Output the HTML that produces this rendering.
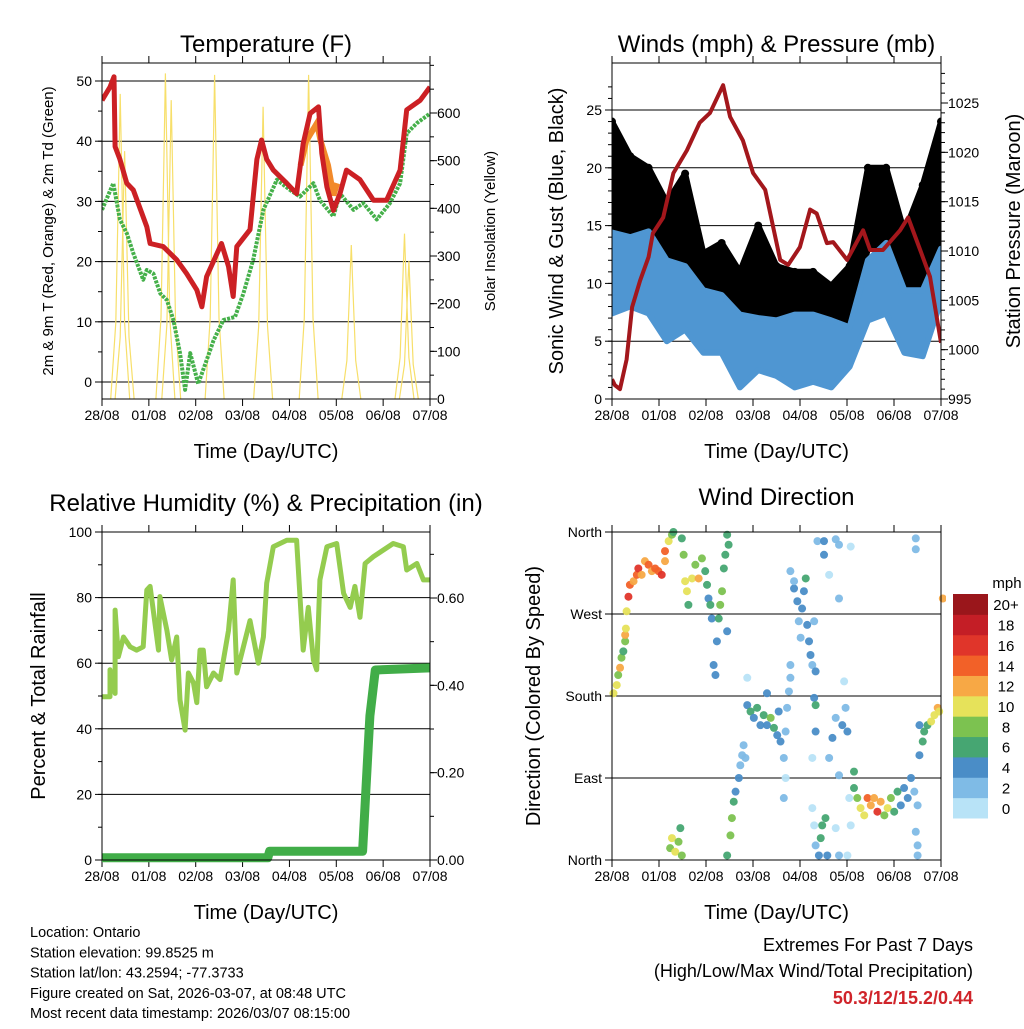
<!DOCTYPE html>
<html><head><meta charset="utf-8"><style>
html,body{margin:0;padding:0;background:#fff;}
svg text{font-family:"Liberation Sans",sans-serif;}
</style></head><body>
<svg id="s" xmlns="http://www.w3.org/2000/svg" width="1024" height="1024" viewBox="0 0 1024 1024">
<rect width="1024" height="1024" fill="#fff"/>
</svg>
<script>
// ---------- data ----------
const xTickLabels = ["28/08","01/08","02/08","03/08","04/08","05/08","06/08","07/08"];
const xTickDays = [0,1.2857,2.5714,3.8571,5.1429,6.4286,7.7143,9];
// temperature panel
const tempDays = [0,0.22,0.33,0.36,0.49,0.68,0.86,1.23,1.32,1.68,2.05,2.32,2.6,2.74,2.87,3.28,3.47,3.6,3.7,4.06,4.25,4.38,4.52,4.7,5.07,5.34,5.52,5.71,5.94,6.03,6.17,6.35,6.53,6.71,7.08,7.45,7.81,8.18,8.36,8.73,9.0];
const tempRed = [46.8,49,50.7,39.1,37,33,31.9,25.8,23,22.5,20.3,18,15.3,12.5,17.5,23,19.2,14.2,22.5,25.3,37,40.2,37,35.2,33,31.3,39.6,44.6,45.7,38,32.4,28.5,31.3,35.2,33.6,30.2,30.2,35.2,45.2,46.8,49];
const orangeDays = [5.45,5.6,5.9,6.0,6.2,6.35,6.45];
const tempOrange = [36,40,43,40,36,31,33];
const dewDays = [0,0.31,0.49,0.68,0.86,1.13,1.23,1.41,1.6,1.78,1.96,2.14,2.28,2.42,2.64,2.87,3.06,3.33,3.65,3.88,4.15,4.43,4.8,5.16,5.43,5.8,5.98,6.35,6.53,6.9,7.17,7.54,7.9,8.18,8.36,8.64,9.0];
const dewPoint = [28.6,33,27,24.7,21.4,17,18.6,18,14.7,13.6,10.3,4.8,-1.3,4.8,-0.3,3.6,6.9,10.3,10.8,14.7,20.3,28.6,33.6,31.9,30.8,33,30.2,27.5,31.3,28.6,29.7,27,29.7,33,41.3,43,44.6];
const solarPeakDay = [0.5,0.62,1.74,1.9,3.09,4.42,5.67,6.84,8.3,8.42];
const solarPeak = [640,520,683,627,680,613,680,323,347,290];
// wind panel
const windDays = [0,0.5,1,1.5,2,2.5,3,3.5,4,4.5,5,5.5,6,6.5,7,7.5,8,8.5,9];
const windLow = [7.4,8,7.4,5,6,4,4,1,2.5,2,1,1.5,1,2.8,6.8,7.4,4,3.7,8.5];
const windHigh = [14.4,14,14.5,12,11.5,9.4,9,7.3,7,6.8,7.3,7.3,6.8,6.2,12,13.5,9.4,9.4,13];
const gustLow = [14.4,14,14,10,11.5,8.5,7.5,5.5,7.5,6.8,7.3,7,5,6.8,13,13,7.4,9.4,14];
const gustHigh = [24,21,20,17,19.5,12.6,13.5,11,15,11.5,11,11,9.8,11.5,20,20,14.4,18.5,24];
const presDays = [0,0.08,0.22,0.4,0.55,0.77,1.0,1.12,1.4,1.68,2.05,2.4,2.68,3.04,3.23,3.58,3.86,4.19,4.6,4.82,5.14,5.42,5.6,5.88,6.05,6.43,6.87,7.06,7.41,7.88,8.1,8.43,8.7,9.0];
const pressure = [997,996.4,996,999,1004.3,1007,1009.4,1011.8,1013.4,1017.9,1020.2,1023,1024,1026.8,1023.6,1021.2,1017.9,1016.2,1009.1,1008.6,1010.4,1014.2,1013.8,1010.8,1010.9,1009.1,1012.1,1010.1,1010.1,1012.1,1013.4,1010.1,1007.4,1000.7];
// RH panel
const rhDays = [0,0.22,0.22,0.36,0.36,0.45,0.59,0.77,0.95,1.13,1.23,1.32,1.55,1.59,1.78,1.91,2.05,2.14,2.28,2.37,2.51,2.6,2.69,2.78,2.87,3.06,3.24,3.47,3.6,3.7,4.06,4.29,4.43,4.52,4.7,5.07,5.34,5.52,5.66,5.8,5.89,5.98,6.17,6.44,6.63,6.81,6.94,7.08,7.22,7.45,7.72,7.99,8.27,8.36,8.64,8.82,9.0];
const rhValues = [49.8,49.8,58,50.8,76.2,62,68,65,64,65,82.3,83.4,64,80.3,70,61,68,48.8,39.6,57,54,48,64,64,52.8,57,55,70,85.4,57,73,60,68,84.4,95.5,97.5,97.5,64,77,61,58,85.4,95.5,96.5,81.3,77,83.4,74,90.4,92.5,94.5,96.5,95.5,88.4,90.4,85.4,85.4];
const rainDays = [0,4.55,4.6,7.15,7.3,7.35,7.5,9];
const rainValues = [0.005,0.005,0.02,0.02,0.25,0.33,0.435,0.44];
// wind direction panel
const dirDays = [0.04,0.13,0.17,0.22,0.26,0.31,0.36,0.36,0.38,
 0.40,0.45,0.49,0.59,0.68,0.72,0.81,0.90,1.0,1.09,1.18,1.27,1.36,1.45,1.45,1.55,1.64,1.68,
 1.91,1.96,2.00,2.05,2.09,2.19,2.28,2.37,2.46,2.55,2.60,2.64,2.69,
 1.59,1.64,1.73,1.82,1.87,1.91,
 2.73,2.78,2.83,2.87,2.92,2.96,3.01,3.06,3.10,3.15,3.19,3.15,
 3.15,3.24,3.28,3.33,3.38,3.47,3.51,3.56,3.60,3.65,3.70,
 3.70,3.79,3.88,3.97,4.06,4.15,4.24,4.34,4.43,4.52,4.56,4.61,4.70,4.75,4.79,4.84,4.88,4.75,4.70,5.48,4.24,
 4.88,4.98,5.07,5.11,5.16,5.20,5.25,5.30,5.34,5.39,5.43,5.48,5.53,5.57,5.53,5.57,4.88,4.98,
 5.62,5.80,5.80,6.12,6.21,6.53,8.31,8.31,5.94,6.21,9.05,
 5.48,5.53,5.57,5.66,5.71,5.75,5.84,5.89,5.94,6.03,6.12,6.21,6.30,6.35,6.39,6.44,6.49,6.53,6.44,6.21,6.12,5.57,
 6.62,6.71,6.80,6.90,6.99,7.08,7.17,7.26,7.35,7.45,7.54,7.63,7.72,7.81,7.90,7.99,8.09,8.18,8.27,8.36,6.62,
 8.41,8.50,8.54,8.63,8.73,8.82,8.91,8.95,8.41,
 8.31,8.36,8.36];
const dirDeg = [183,192,203,211,222,229,240,247,254,
 273,289,302,306,313,320,313,328,324,317,320,317,313,328,339,350,357,360,
 353,335,306,295,280,309,324,309,331,317,302,287,280,
 13,24,9,20,35,5,
 265,214,203,240,265,280,295,320,335,357,346,251,
 5,27,46,64,75,90,104,115,126,112,200,
 170,163,156,167,148,159,148,156,145,137,163,130,112,141,167,185,200,90,68,112,183,
 317,298,284,262,244,276,295,309,258,240,225,214,262,207,178,170,214,306,
 350,350,335,352,346,344,353,341,313,287,287,
 57,38,16,5,24,38,46,5,112,134,156,93,148,196,167,141,68,38,5,5,35,141,
 79,68,57,49,68,60,68,53,64,49,57,68,53,75,60,79,68,90,75,60,97,
 115,130,141,148,152,159,167,163,148,
 31,5,16];
const dirSpeed = [10,10,8,12,8,6,8,12,10,
 10,16,14,12,14,16,12,12,14,12,14,14,16,12,14,10,8,6,
 6,8,10,10,6,10,8,12,8,6,6,4,6,
 8,10,10,8,6,8,
 4,4,4,4,6,8,8,6,6,6,6,4,
 6,8,8,6,4,4,2,2,2,2,0,
 4,6,4,6,4,6,4,8,6,4,4,4,2,2,2,2,2,0,2,0,4,
 2,4,4,2,2,4,4,6,4,4,4,2,2,4,4,6,2,2,
 2,4,4,2,2,0,2,2,0,2,12,
 0,0,2,4,6,6,6,4,2,4,2,2,4,0,2,4,0,0,0,2,0,4,
 6,8,10,10,14,12,12,16,12,8,10,8,6,6,4,4,4,4,2,2,6,
 4,6,6,6,10,10,12,10,4,
 2,2,2];
const cbLabels = ["0","2","4","6","8","10","12","14","16","18","20+"];
const cbColors = ["#b8e3f7","#7fbbe6","#4a8dc7","#46a672","#7cc250","#e6e25a","#f7a845","#f26128","#e0352a","#c41e26","#9a161b"];

// ---------- helpers ----------
const NS="http://www.w3.org/2000/svg";
const svg=document.getElementById('s');
function el(tag,attrs,parent,txt){const e=document.createElementNS(NS,tag);for(const k in attrs)e.setAttribute(k,attrs[k]);if(txt!==undefined)e.textContent=txt;(parent||svg).appendChild(e);return e;}
function txt(x,y,s,size,anchor,name,extra){const t=el('text',Object.assign({x:x,y:y,'font-size':size,'text-anchor':anchor||'middle',fill:'#000'},extra||{}),null,s);return t;}
function lin(d0,d1,r0,r1){return v=>r0+(v-d0)*(r1-r0)/(d1-d0);}
function pathOf(xs,ys,fx,fy){return xs.map((d,i)=>(i?'L':'M')+fx(d).toFixed(1)+','+fy(ys[i]).toFixed(1)).join('');}
function clip(id,x0,y0,x1,y1){const c=el('clipPath',{id:id});el('rect',{x:x0,y:y0,width:x1-x0,height:y1-y0},c);}

function panel(p){
  const g=el('g',{});
  const fx=lin(0,9,p.x0,p.x1);
  p.grid.forEach(v=>{const l=el('line',{x1:p.x0,x2:p.x1,y1:p.fy(v),y2:p.fy(v),stroke:'#000','stroke-width':1},g);});
  xTickDays.forEach((d,i)=>{const x=fx(d);el('line',{x1:x,x2:x,y1:p.y1,y2:p.y1+7,stroke:'#000'},g);el('line',{x1:x,x2:x,y1:p.y0,y2:p.y0-7,stroke:'#000'},g);
    txt(x,p.y1+21,xTickLabels[i],14,'middle','x-tick-label');});
  txt((p.x0+p.x1)/2,p.y1+59,'Time (Day/UTC)',20,'middle','x-axis-title');
  txt((p.x0+p.x1)/2,p.titleY,p.title,24,'middle','panel-title');
  return {g:g,fx:fx};
}
function yTicks(p,vals,labels,fy,side,minorStep,minRange){
  vals.forEach((v,i)=>{const y=fy(v);const x=side==='l'?p.x0:p.x1;const dx=side==='l'?-7:7;
    el('line',{x1:x,x2:x+dx,y1:y,y2:y,stroke:'#000'});
    txt(side==='l'?x-10:x+7,y+5,labels[i],14,side==='l'?'end':'start',side==='l'?'y-tick-label':'y2-tick-label');});
  if(minorStep){for(let v=minRange[0];v<=minRange[1]+1e-9;v+=minorStep){const y=fy(v);if(y<p.y0||y>p.y1)continue;const x=side==='l'?p.x0:p.x1;el('line',{x1:x,x2:x+(side==='l'?-4:4),y1:y,y2:y,stroke:'#000'});}}
}
function frame(p){const r=el('rect',{x:p.x0,y:p.y0,width:p.x1-p.x0,height:p.y1-p.y0,fill:'none',stroke:'#000','stroke-width':1});}

// ---------- Panel 1: Temperature ----------
(function(){
  const p={x0:102,x1:430,y0:63,y1:399,name:'temperature-panel',title:'Temperature (F)',titleY:52};
  p.fy=lin(0,50,382,81);p.grid=[0,10,20,30,40,50];
  const {g,fx}=panel(p);
  const fs=lin(0,600,399,113);
  clip('c1',p.x0,p.y0,p.x1,p.y1);
  const cg=el('g',{'clip-path':'url(#c1)'},g);
  solarPeakDay.forEach((d,i)=>{const pk=solarPeak[i];const xs=[d-0.26,d-0.12,d-0.04,d,d+0.04,d+0.12,d+0.26];const ys=[0,pk*0.25,pk*0.75,pk,pk*0.75,pk*0.25,0];
    const pa=el('path',{d:pathOf(xs,ys,fx,fs),fill:'none',stroke:'#f7df6a','stroke-width':1.2},cg);});
  const gd=el('path',{d:pathOf(dewDays,dewPoint,fx,p.fy),fill:'none',stroke:'#45b04a','stroke-width':4,'stroke-dasharray':'3 1.2','stroke-linejoin':'round'},cg);
  const od=el('path',{d:pathOf(orangeDays,tempOrange,fx,p.fy),fill:'none',stroke:'#f28a2a','stroke-width':6},cg);
  const rd=el('path',{d:pathOf(tempDays,tempRed,fx,p.fy),fill:'none',stroke:'#cc2024','stroke-width':5,'stroke-linejoin':'round'},cg);
  frame(p);
  yTicks(p,[0,10,20,30,40,50],['0','10','20','30','40','50'],p.fy,'l',5,[0,50]);
  yTicks(p,[0,100,200,300,400,500,600],['0','100','200','300','400','500','600'],fs,'r',50,[0,700]);
  txt(0,0,'2m & 9m T (Red, Orange) & 2m Td (Green)',15,'middle','y-axis-title',{transform:'translate(53,231) rotate(-90)'});
  txt(0,0,'Solar Insolation (Yellow)',15,'middle','y2-axis-title',{transform:'translate(495,231) rotate(-90)'});
})();

// ---------- Panel 2: Winds ----------
(function(){
  const p={x0:612,x1:941,y0:63,y1:399,name:'winds-panel',title:'Winds (mph) & Pressure (mb)',titleY:52};
  p.fy=lin(0,25,399,110);p.grid=[5,10,15,20,25];
  const {g,fx}=panel(p);
  const fp=lin(995,1025,399,103);
  clip('c2',p.x0,p.y0,p.x1,p.y1);
  const cg=el('g',{'clip-path':'url(#c2)'},g);
  const band=(lo,hi,col,name,op)=>{const d=pathOf(windDays,hi,fx,p.fy)+pathOf(windDays.slice().reverse(),lo.slice().reverse(),fx,p.fy).replace('M','L')+'Z';const b=el('path',{d:d,fill:col,'fill-opacity':op,stroke:col,'stroke-width':6,'stroke-linejoin':'round','stroke-opacity':op},cg);};
  band(gustLow,gustHigh,'#000','gust-dots',1);
  windDays.forEach((d,i)=>{[gustLow[i],gustHigh[i]].forEach(v=>{const c=el('circle',{cx:fx(d),cy:p.fy(v),r:4,fill:'#000'},cg);});});
  band(windLow,windHigh,'#4f96d2','sonic-wind-band',1);
  const pr=el('path',{d:pathOf(presDays,pressure,fx,fp),fill:'none',stroke:'#a3171c','stroke-width':4,'stroke-linejoin':'round'},cg);
  frame(p);
  yTicks(p,[0,5,10,15,20,25],['0','5','10','15','20','25'],p.fy,'l',1,[0,27]);
  yTicks(p,[995,1000,1005,1010,1015,1020,1025],['995','1000','1005','1010','1015','1020','1025'],fp,'r',1,[995,1028]);
  txt(0,0,'Sonic Wind & Gust (Blue, Black)',20,'middle','y-axis-title',{transform:'translate(563,231) rotate(-90)'});
  txt(0,0,'Station Pressure (Maroon)',20,'middle','y2-axis-title',{transform:'translate(1020,231) rotate(-90)'});
})();

// ---------- Panel 3: RH ----------
(function(){
  const p={x0:102,x1:430,y0:532,y1:860,name:'humidity-panel',title:'Relative Humidity (%) & Precipitation (in)',titleY:511};
  p.fy=lin(0,100,860,532);p.grid=[20,40,60,80];
  const {g,fx}=panel(p);
  const fr=lin(0,0.6,860,598);
  clip('c3',p.x0,p.y0-3,p.x1,p.y1+6);
  const cg=el('g',{'clip-path':'url(#c3)'},g);
  const rh=el('path',{d:pathOf(rhDays,rhValues,fx,p.fy),fill:'none',stroke:'#94cc4f','stroke-width':5,'stroke-linejoin':'round'},cg);
  const rn=el('path',{d:pathOf(rainDays,rainValues,fx,fr),fill:'none',stroke:'#41ad48','stroke-width':9,'stroke-linejoin':'round'},cg);
  frame(p);
  yTicks(p,[0,20,40,60,80,100],['0','20','40','60','80','100'],p.fy,'l',10,[0,100]);
  yTicks(p,[0,0.2,0.4,0.6],['0.00','0.20','0.40','0.60'],fr,'r',0.1,[0,0.7]);
  txt(0,0,'Percent & Total Rainfall',20,'middle','y-axis-title',{transform:'translate(45,696) rotate(-90)'});
})();

// ---------- Panel 4: Wind direction ----------
(function(){
  const p={x0:612,x1:941,y0:532,y1:860,name:'wind-direction-panel',title:'Wind Direction',titleY:505};
  p.fy=lin(0,360,860,532);p.grid=[90,180,270];
  const {g,fx}=panel(p);
  clip('c4',p.x0-4,p.y0-4,p.x1+5,p.y1+4);
  const cg=el('g',{'clip-path':'url(#c4)'},g);
  dirDays.forEach((d,i)=>{const idx=Math.min(10,Math.round(dirSpeed[i]/2));const c=el('circle',{cx:fx(d),cy:p.fy(dirDeg[i]),r:4,fill:cbColors[idx],'fill-opacity':0.95},cg);
    
    });
  frame(p);
  yTicks(p,[0,90,180,270,360],['North','East','South','West','North'],p.fy,'l',0,[0,0]);
  txt(0,0,'Direction (Colored By Speed)',20,'middle','y-axis-title',{transform:'translate(540,696) rotate(-90)'});
  const cb=el('g',{});
  const h=224/cbColors.length;
  cbColors.forEach((c,i)=>{const y=818-(i+1)*h;const r=el('rect',{x:953,y:y,width:35,height:h+0.5,fill:c},cb);
    txt(1006,y+h/2+6,cbLabels[i],15,'middle','colorbar-label');});
  txt(1007,588,'mph',15,'middle','colorbar-title');
})();

// ---------- footer ----------
['Location: Ontario','Station elevation: 99.8525 m','Station lat/lon: 43.2594; -77.3733','Figure created on Sat, 2026-03-07, at 08:48 UTC','Most recent data timestamp: 2026/03/07 08:15:00'].forEach((s,i)=>txt(30,937+i*20.3,s,14.5,'start','station-info-line'));
txt(973,951,'Extremes For Past 7 Days',18,'end','extremes-title');
txt(973,977,'(High/Low/Max Wind/Total Precipitation)',18,'end','extremes-subtitle');
txt(973,1004,'50.3/12/15.2/0.44',18,'end','extremes-values',{fill:'#d0242a','font-weight':'bold'});
</script>
</body></html>
